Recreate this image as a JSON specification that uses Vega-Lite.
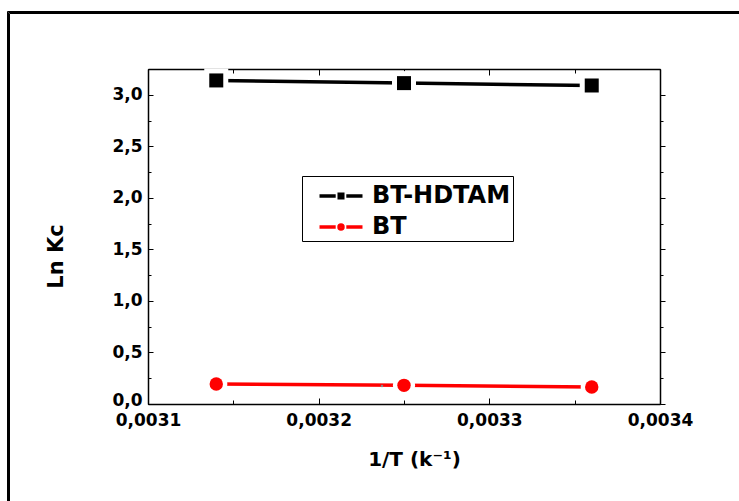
{
  "$schema": "https://vega.github.io/schema/vega-lite/v6.json",
  "autosize": "none",
  "width": 512,
  "height": 335,
  "padding": {"left": 148, "top": 69, "right": 79, "bottom": 97},
  "background": "#ffffff",
  "config": {
    "view": {"stroke": "#000000", "strokeWidth": 1},
    "font": "DejaVu Sans",
    "axis": {
      "domainColor": "#000000",
      "domainWidth": 1.5,
      "tickColor": "#000000",
      "tickWidth": 1,
      "grid": false,
      "labelFont": "DejaVu Sans",
      "labelFontWeight": "bold",
      "labelColor": "#000000",
      "titleFont": "DejaVu Sans",
      "titleFontWeight": "bold",
      "titleColor": "#000000"
    }
  },
  "data": {
    "values": [
      {"series": "BT-HDTAM", "invT": 0.00314, "lnKc": 3.139},
      {"series": "BT-HDTAM", "invT": 0.00325, "lnKc": 3.113},
      {"series": "BT-HDTAM", "invT": 0.00336, "lnKc": 3.090},
      {"series": "BT", "invT": 0.00314, "lnKc": 0.194},
      {"series": "BT", "invT": 0.00325, "lnKc": 0.181},
      {"series": "BT", "invT": 0.00336, "lnKc": 0.165}
    ]
  },
  "layer": [
    {
      "mark": {"type": "line", "strokeWidth": 3.5},
      "encoding": {
        "x": {
          "field": "invT", "type": "quantitative",
          "scale": {"domain": [0.0031, 0.0034], "nice": false, "zero": false},
          "axis": {
            "orient": "bottom",
            "values": [0.0031, 0.00315, 0.0032, 0.00325, 0.0033, 0.00335, 0.0034],
            "labelExpr": "round(datum.value*100000) % 10 == 0 ? replace(format(datum.value, '.4f'), '.', ',') : ''",
            "labelFontSize": 17,
            "labelPadding": 14,
            "labelFlush": false,
            "labelOverlap": false,
            "tickSize": {"condition": {"test": "round(datum.value*100000) % 10 == 0", "value": -6}, "value": -4},
            "title": "1/T (k⁻¹)",
            "titleFontSize": 20,
            "titlePadding": 19,
            "titleX": 266
          }
        },
        "y": {
          "field": "lnKc", "type": "quantitative",
          "scale": {"domain": [0, 3.25], "nice": false},
          "axis": {
            "orient": "left",
            "values": [0, 0.25, 0.5, 0.75, 1, 1.25, 1.5, 1.75, 2, 2.25, 2.5, 2.75, 3],
            "labelExpr": "datum.value % 0.5 == 0 ? replace(format(datum.value, '.1f'), '.', ',') : ''",
            "labelFontSize": 17,
            "labelPadding": 11,
            "labelFlush": false,
            "labelOverlap": false,
            "labelOffset": {"condition": {"test": "datum.value == 0", "value": -4}, "value": 0},
            "tickSize": {"condition": {"test": "datum.value % 0.5 == 0", "value": -5}, "value": -3},
            "title": "Ln Kᴄ",
            "titleFontSize": 21,
            "titlePadding": 45,
            "titleY": 187
          }
        },
        "color": {
          "field": "series", "type": "nominal",
          "scale": {"domain": ["BT-HDTAM", "BT"], "range": ["#000000", "#ff0000"]},
          "legend": null
        }
      }
    },
    {
      "mark": {"type": "point", "filled": true, "opacity": 1, "color": "#ffffff"},
      "encoding": {
        "x": {"field": "invT", "type": "quantitative", "axis": null},
        "y": {"field": "lnKc", "type": "quantitative", "axis": null},
        "shape": {"field": "series", "type": "nominal", "scale": {"domain": ["BT-HDTAM", "BT"], "range": ["square", "circle"]}, "legend": null},
        "size": {"field": "series", "type": "nominal", "scale": {"domain": ["BT-HDTAM", "BT"], "range": [576, 490]}, "legend": null}
      }
    },
    {
      "mark": {"type": "point", "filled": true, "opacity": 1},
      "encoding": {
        "x": {
          "field": "invT", "type": "quantitative",
          "axis": {
            "orient": "top",
            "values": [0.0031, 0.00315, 0.0032, 0.00325, 0.0033, 0.00335, 0.0034],
            "labels": false,
            "title": null,
            "tickSize": {"condition": {"test": "round(datum.value*100000) % 10 == 0", "value": -6}, "value": -4}
          }
        },
        "y": {
          "field": "lnKc", "type": "quantitative",
          "axis": {
            "orient": "right",
            "values": [0, 0.25, 0.5, 0.75, 1, 1.25, 1.5, 1.75, 2, 2.25, 2.5, 2.75, 3],
            "labels": false,
            "title": null,
            "tickSize": {"condition": {"test": "datum.value % 0.5 == 0", "value": 5}, "value": 3}
          }
        },
        "color": {"field": "series", "type": "nominal", "scale": {"domain": ["BT-HDTAM", "BT"], "range": ["#000000", "#ff0000"]}, "legend": null},
        "shape": {"field": "series", "type": "nominal", "scale": {"domain": ["BT-HDTAM", "BT"], "range": ["square", "circle"]}, "legend": null},
        "size": {"field": "series", "type": "nominal", "scale": {"domain": ["BT-HDTAM", "BT"], "range": [196, 180]}, "legend": null}
      }
    },
    {
      "transform": [{"filter": "false"}],
      "mark": {"type": "point", "filled": false, "opacity": 1, "strokeWidth": 3.5},
      "encoding": {
        "x": {"field": "invT", "type": "quantitative", "axis": null},
        "y": {"field": "lnKc", "type": "quantitative", "axis": null},
        "color": {
          "field": "series", "type": "nominal",
          "scale": {"domain": ["BT-HDTAM", "BT"], "range": ["#000000", "#ff0000"]},
          "legend": {
            "orient": "none",
            "legendX": 154,
            "legendY": 107,
            "title": "\u00a0",
            "titleFontSize": 4,
            "titlePadding": 2,
            "strokeColor": "#000000",
            "fillColor": "#ffffff",
            "padding": 2,
            "labelFont": "DejaVu Sans",
            "labelFontWeight": "bold",
            "labelFontSize": 24,
            "labelColor": "#000000",
            "labelLimit": 400,
            "labelExpr": "datum.label + '\u00a0\u00a0\u00a0'",
            "symbolSize": 200,
            "symbolStrokeWidth": 3.5,
            "symbolOffset": 25,
            "labelOffset": 19,
            "rowPadding": 7
          }
        },
        "shape": {
          "field": "series", "type": "nominal",
          "scale": {"domain": ["BT-HDTAM", "BT"], "range": ["M-3.04,0H-0.75M-0.25,-0.25H0.25V0.25H-0.25ZM0.75,0H3.04", "M-3.04,0H-0.75M0.28,0A0.28,0.28,0,1,1,-0.28,0A0.28,0.28,0,1,1,0.28,0ZM0.75,0H3.04"]},
          "legend": {
            "orient": "none",
            "legendX": 154,
            "legendY": 107,
            "title": "\u00a0",
            "titleFontSize": 4,
            "titlePadding": 2,
            "strokeColor": "#000000",
            "fillColor": "#ffffff",
            "padding": 2,
            "labelFont": "DejaVu Sans",
            "labelFontWeight": "bold",
            "labelFontSize": 24,
            "labelColor": "#000000",
            "labelLimit": 400,
            "labelExpr": "datum.label + '\u00a0\u00a0\u00a0'",
            "symbolSize": 200,
            "symbolStrokeWidth": 3.5,
            "symbolOffset": 25,
            "labelOffset": 19,
            "rowPadding": 7
          }
        },
        "opacity": {
          "field": "series", "type": "ordinal",
          "scale": {"domain": ["frame1"], "range": [1]},
          "legend": {
            "orient": "none",
            "legendX": -141,
            "legendY": -58,
            "title": null,
            "labelExpr": "''",
            "symbolOpacity": 0,
            "symbolSize": 1,
            "padding": 370,
            "strokeColor": "#000000"
          }
        },
        "strokeWidth": {
          "field": "series", "type": "ordinal",
          "scale": {"domain": ["frame2"], "range": [1]},
          "legend": {
            "orient": "none",
            "legendX": -140,
            "legendY": -57,
            "title": null,
            "labelExpr": "''",
            "symbolOpacity": 0,
            "symbolSize": 1,
            "padding": 370,
            "strokeColor": "#000000"
          }
        },
        "strokeDash": {
          "field": "series", "type": "ordinal",
          "scale": {"domain": ["frame3"], "range": [[1, 0]]},
          "legend": {
            "orient": "none",
            "legendX": -139,
            "legendY": -56,
            "title": null,
            "labelExpr": "''",
            "symbolOpacity": 0,
            "symbolSize": 1,
            "padding": 370,
            "strokeColor": "#000000"
          }
        }
      }
    }
  ],
  "resolve": {
    "axis": {"x": "independent", "y": "independent"},
    "scale": {"size": "independent", "shape": "independent", "color": "independent", "opacity": "independent", "strokeWidth": "independent", "strokeDash": "independent"}
  }
}
